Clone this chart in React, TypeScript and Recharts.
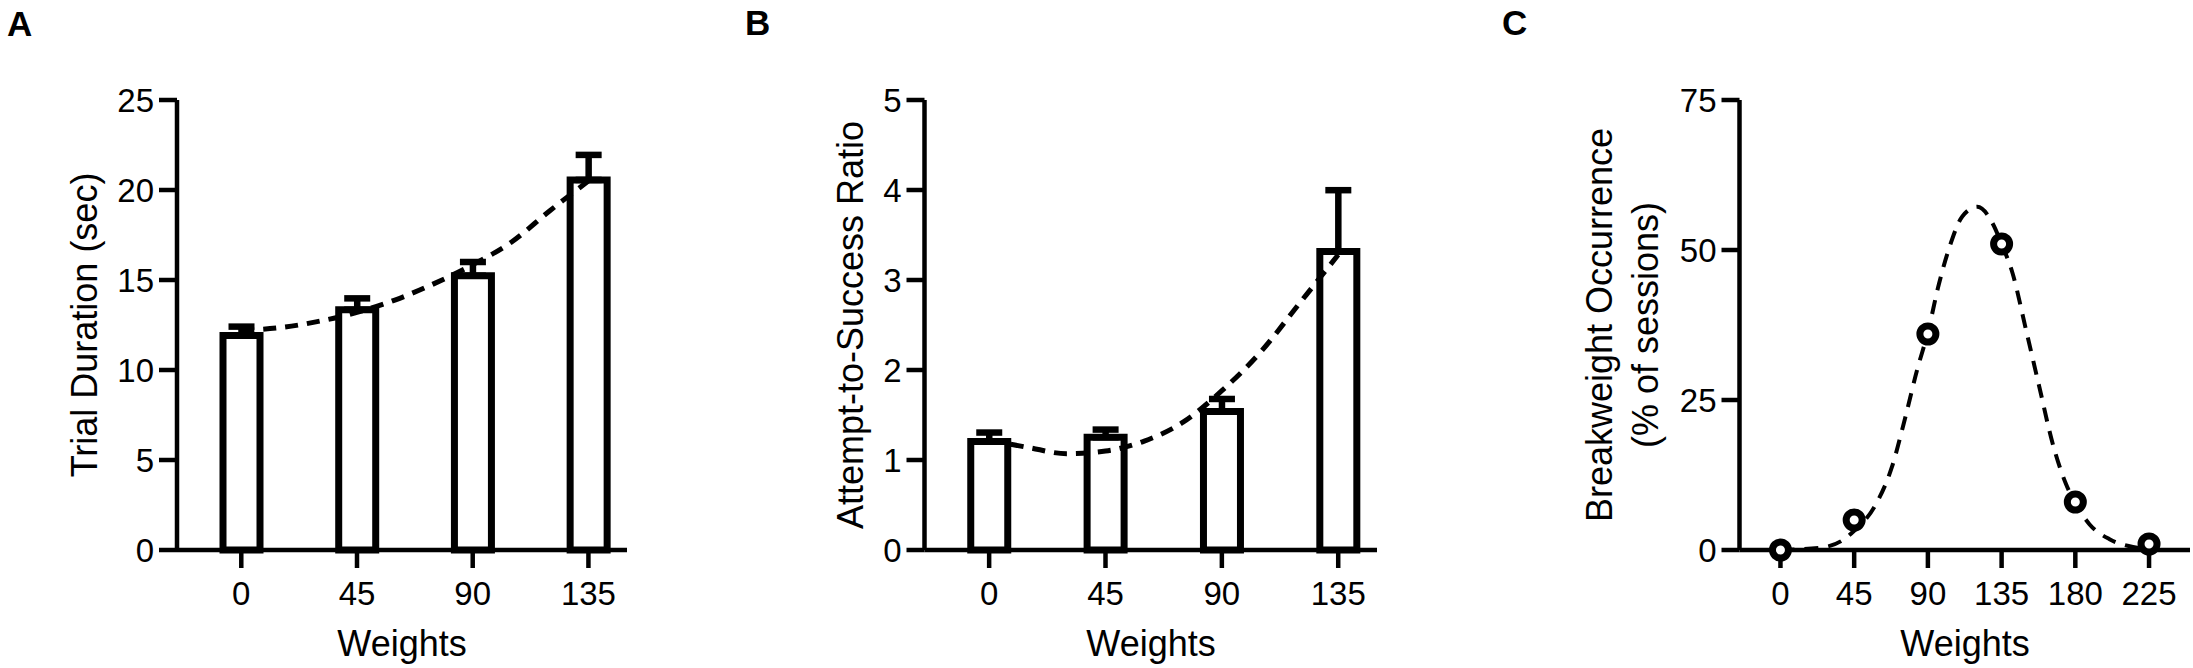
import React from 'react';
import { ComposedChart, Bar, Line, XAxis, YAxis, ErrorBar } from 'recharts';

const FONT = '"Liberation Sans", Arial, Helvetica, sans-serif';

// Panels A & B: weights (categories on a numeric axis)
const weightsAB = [0, 45, 90, 135];
const durationMean = [11.91, 13.35, 15.24, 20.56];
const durationSem = [0.5, 0.63, 0.76, 1.39];
const ratioMean = [1.205, 1.253, 1.538, 3.318];
const ratioSem = [0.1, 0.085, 0.14, 0.68];

// Dashed fitted curves
const fitX = [0, 15, 30, 45, 60, 75, 90, 105, 120, 135];
const durationFit = [12.2, 12.35, 12.7, 13.2, 13.9, 14.8, 15.85, 17.1, 18.85, 20.5];
const ratioFit = [1.22, 1.14, 1.07, 1.1, 1.21, 1.42, 1.77, 2.2, 2.74, 3.28];

// Panel C
const weightsC = [0, 45, 90, 135, 180, 225];
const breakOcc = [0, 5, 36, 51, 8, 1];
const gaussX = [0, 25, 39.4, 45, 57.8, 68, 76.2, 83.4, 90, 96.7, 103.8, 111, 120.2, 129.4, 135, 141.6, 149.9, 158, 166.2, 174.3, 180, 188.6, 200.9, 215.2, 225];
const gaussY = [0, 0.4, 1.9, 3.2, 7.4, 13.8, 22.1, 30, 36.3, 44.3, 51, 55.6, 57.2, 54.5, 51, 46.2, 36.7, 27.2, 17.7, 11, 7.8, 4.3, 1.8, 0.5, 0.2];

const ticksA = [0, 5, 10, 15, 20, 25];
const ticksB = [0, 1, 2, 3, 4, 5];
const ticksC = [0, 25, 50, 75];

const barDataA = weightsAB.map((x, i) => ({ x, y: durationMean[i], err: [0, durationSem[i]] }));
const barDataB = weightsAB.map((x, i) => ({ x, y: ratioMean[i], err: [0, ratioSem[i]] }));
const fitDataA = fitX.map((x, i) => ({ x, y: durationFit[i] }));
const fitDataB = fitX.map((x, i) => ({ x, y: ratioFit[i] }));
const pointDataC = weightsC.map((x, i) => ({ x, y: breakOcc[i] }));
const gaussData = gaussX.map((x, i) => ({ x, y: gaussY[i] }));

const axisLine = { stroke: '#000', strokeWidth: 4.5 };
const tickFont = { fill: '#000', fontSize: 33, fontFamily: FONT };
const H = 668;

function BarPanel(props: any) {
  const { left, width, yAxisWidth, right, data, fit, yMax, yTicks } = props;
  return (
    <div style={{ position: 'absolute', left, top: 0 }}>
      <ComposedChart width={width} height={H} data={data} margin={{ top: 100, right, bottom: 0, left: 0 }}>
        <XAxis
          dataKey="x"
          type="number"
          domain={[-25, 150]}
          ticks={weightsAB}
          interval={0}
          height={118}
          tickSize={18}
          tickMargin={14}
          axisLine={axisLine}
          tickLine={axisLine}
          tick={tickFont}
        />
        <YAxis
          type="number"
          domain={[0, yMax]}
          ticks={yTicks}
          interval={0}
          width={yAxisWidth}
          tickSize={18}
          tickMargin={5}
          axisLine={axisLine}
          tickLine={axisLine}
          tick={tickFont}
        />
        <Bar dataKey="y" barSize={37} fill="#fff" stroke="#000" strokeWidth={7} isAnimationActive={false}>
          <ErrorBar dataKey="err" direction="y" width={13} stroke="#000" strokeWidth={6.5} isAnimationActive={false} />
        </Bar>
        <Line
          data={fit}
          dataKey="y"
          type="monotone"
          stroke="#000"
          strokeWidth={5}
          strokeDasharray="13 9"
          dot={false}
          activeDot={false}
          isAnimationActive={false}
        />
      </ComposedChart>
    </div>
  );
}

function PanelC() {
  return (
    <div style={{ position: 'absolute', left: 1460, top: 0 }}>
      <ComposedChart width={733} height={H} data={pointDataC} margin={{ top: 100, right: 3, bottom: 0, left: 0 }}>
        <XAxis
          dataKey="x"
          type="number"
          domain={[-25, 250]}
          ticks={weightsC}
          interval={0}
          height={118}
          tickSize={18}
          tickMargin={14}
          axisLine={axisLine}
          tickLine={axisLine}
          tick={tickFont}
        />
        <YAxis
          type="number"
          domain={[0, 75]}
          ticks={ticksC}
          interval={0}
          width={279.5}
          tickSize={18}
          tickMargin={5}
          axisLine={axisLine}
          tickLine={axisLine}
          tick={tickFont}
        />
        <Line
          data={gaussData}
          dataKey="y"
          type="monotone"
          stroke="#000"
          strokeWidth={4}
          strokeDasharray="14 10"
          dot={false}
          activeDot={false}
          isAnimationActive={false}
        />
        <Line
          dataKey="y"
          stroke="none"
          dot={{ r: 8, fill: '#fff', stroke: '#000', strokeWidth: 7 }}
          activeDot={false}
          isAnimationActive={false}
        />
      </ComposedChart>
    </div>
  );
}

function Labels() {
  const t = { fontFamily: FONT, fill: '#000' } as any;
  const rot = (x: number, y: number) => `rotate(-90 ${x} ${y})`;
  return (
    <svg width={2193} height={H} style={{ position: 'absolute', left: 0, top: 0, pointerEvents: 'none' }}>
      <text x={7} y={36} fontSize={35} fontWeight="bold" {...t}>A</text>
      <text x={745} y={35} fontSize={35} fontWeight="bold" {...t}>B</text>
      <text x={1502} y={35} fontSize={35} fontWeight="bold" {...t}>C</text>

      <text x={97} y={325} transform={rot(97, 325)} textAnchor="middle" fontSize={36} {...t}>Trial Duration (sec)</text>
      <text x={863} y={325} transform={rot(863, 325)} textAnchor="middle" fontSize={36} {...t}>Attempt-to-Success Ratio</text>
      <text x={1612} y={325} transform={rot(1612, 325)} textAnchor="middle" fontSize={36} {...t}>Breakweight Occurrence</text>
      <text x={1658} y={325} transform={rot(1658, 325)} textAnchor="middle" fontSize={36} {...t}>(% of sessions)</text>

      <text x={402} y={656} textAnchor="middle" fontSize={36} {...t}>Weights</text>
      <text x={1151} y={656} textAnchor="middle" fontSize={36} {...t}>Weights</text>
      <text x={1965} y={656} textAnchor="middle" fontSize={36} {...t}>Weights</text>
    </svg>
  );
}

export default function App() {
  return (
    <div style={{ position: 'relative', width: 2193, height: H, background: '#fff', overflow: 'hidden' }}>
      <style>{'body{margin:0;background:#fff}'}</style>
      <BarPanel left={0} width={640} yAxisWidth={177} right={13} data={barDataA} fit={fitDataA} yMax={25} yTicks={ticksA} />
      <BarPanel left={700} width={690} yAxisWidth={224.5} right={13} data={barDataB} fit={fitDataB} yMax={5} yTicks={ticksB} />
      <PanelC />
      <Labels />
    </div>
  );
}
